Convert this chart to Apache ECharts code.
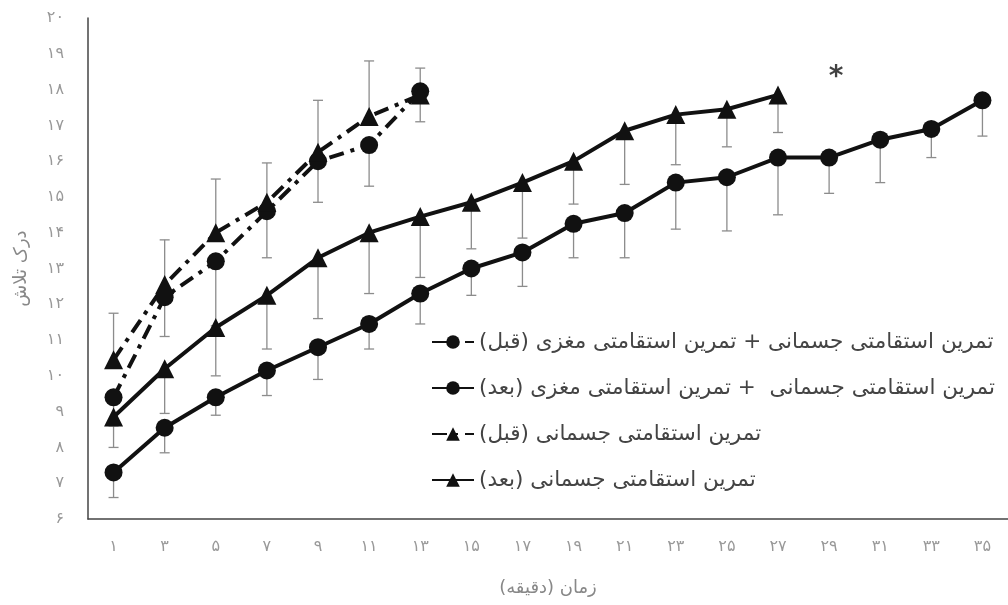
<!DOCTYPE html>
<html>
<head>
<meta charset="utf-8">
<script src="https://cdn.jsdelivr.net/npm/echarts@6/dist/echarts.min.js"></script>
<style>
  html, body { margin: 0; padding: 0; background: #fff; }
  #chart { width: 1008px; height: 605px; }
</style>
</head>
<body>
<div id="chart" dir="rtl"></div>
<script>
// Time points (minutes), written with Persian digits
const categories = ['۱', '۳', '۵', '۷', '۹', '۱۱', '۱۳', '۱۵', '۱۷', '۱۹', '۲۱', '۲۳', '۲۵', '۲۷', '۲۹', '۳۱', '۳۳', '۳۵'];

// Perceived exertion: physical + cognitive endurance training, before
const combinedBefore = [9.4, 12.2, 13.2, 14.6, 16.0, 16.45, 17.95];
const combinedBeforeSd = [0.8, 1.1, 1.8, 1.3, 1.15, 1.15, 0.85];

// Physical + cognitive endurance training, after
const combinedAfter = [7.3, 8.55, 9.4, 10.15, 10.8, 11.45, 12.3, 13.0, 13.45, 14.25, 14.55, 15.4, 15.55, 16.1, 16.1, 16.6, 16.9, 17.7];
const combinedAfterSd = [0.7, 0.7, 0.5, 0.7, 0.9, 0.7, 0.85, 0.75, 0.95, 0.95, 1.25, 1.3, 1.5, 1.6, 1.0, 1.2, 0.8, 1.0];

// Physical endurance training only, before
const physicalBefore = [10.45, 12.55, 14.0, 14.85, 16.25, 17.25, 17.85];
const physicalBeforeSd = [1.3, 1.25, 1.5, 1.1, 1.45, 1.55, 0.75];

// Physical endurance training only, after
const physicalAfter = [8.85, 10.2, 11.35, 12.25, 13.3, 14.0, 14.45, 14.85, 15.4, 16.0, 16.85, 17.3, 17.45, 17.85];
const physicalAfterSd = [0.85, 1.25, 1.35, 1.5, 1.7, 1.7, 1.7, 1.3, 1.55, 1.2, 1.5, 1.4, 1.05, 1.05];

// Significance marker
const starMark = ['۲۹', 18.45];

const seriesNames = [
  'تمرین استقامتی جسمانی + تمرین استقامتی مغزی (قبل)',
  'تمرین استقامتی جسمانی  + تمرین استقامتی مغزی (بعد)',
  'تمرین استقامتی جسمانی (قبل)',
  'تمرین استقامتی جسمانی (بعد)'
];

const persianDigits = ['۰', '۱', '۲', '۳', '۴', '۵', '۶', '۷', '۸', '۹'];
const toPersian = n => String(n).replace(/[0-9]/g, d => persianDigits[+d]);

const FONT = "'DejaVu Sans', sans-serif";
const INK = '#111';
const dashDot = [15, 7, 4, 7];

// Vertical one-sided error bar with a short cap
function errorBars(name, values, sds, dir) {
  return {
    type: 'custom',
    name: name,
    z: 1,
    silent: true,
    data: values.map((v, i) => [i, v, sds[i]]),
    encode: { x: 0, y: 1 },
    renderItem: function (params, api) {
      const x = api.value(0), v = api.value(1), e = api.value(2);
      const p0 = api.coord([x, v]);
      const p1 = api.coord([x, v + dir * e]);
      const style = { stroke: '#8c8c8c', lineWidth: 1.3 };
      return {
        type: 'group',
        children: [
          { type: 'line', shape: { x1: p0[0], y1: p0[1], x2: p1[0], y2: p1[1] }, style: style },
          { type: 'line', shape: { x1: p1[0] - 5, y1: p1[1], x2: p1[0] + 5, y2: p1[1] }, style: style }
        ]
      };
    }
  };
}

function lineSeries(name, values, symbol, dashed) {
  return {
    type: 'line',
    name: name,
    z: 3,
    data: values,
    symbol: symbol,
    symbolSize: symbol === 'triangle' ? 19 : 18,
    showAllSymbol: true,
    itemStyle: { color: INK },
    lineStyle: { color: INK, width: 4, type: dashed ? dashDot : 'solid' }
  };
}

const chart = echarts.init(document.getElementById('chart'), null, { renderer: 'canvas' });
chart.setOption({
  animation: false,
  backgroundColor: '#fff',
  grid: { left: 88, right: 0, top: 18, bottom: 86 },
  legend: {
    orient: 'vertical',
    left: 426,
    top: 326,
    itemGap: 24,
    itemWidth: 42,
    itemHeight: 17,
    data: seriesNames,
    textStyle: { fontFamily: FONT, fontSize: 21.5, color: '#444' }
  },
  xAxis: {
    type: 'category',
    data: categories,
    boundaryGap: true,
    axisLine: { lineStyle: { color: '#444', width: 1.5 } },
    axisTick: { show: false },
    axisLabel: { color: '#999', fontFamily: FONT, fontSize: 16, margin: 20 },
    name: 'زمان (دقیقه)',
    nameLocation: 'middle',
    nameGap: 60,
    nameTextStyle: { color: '#888', fontFamily: FONT, fontSize: 18 }
  },
  yAxis: {
    type: 'value',
    min: 6,
    max: 20,
    interval: 1,
    axisLine: { show: true, lineStyle: { color: '#444', width: 1.5 } },
    axisTick: { show: false },
    splitLine: { show: false },
    axisLabel: { color: '#999', fontFamily: FONT, fontSize: 16, margin: 24, formatter: v => toPersian(v) },
    name: 'درک تلاش',
    nameLocation: 'middle',
    nameRotate: 90,
    nameGap: 58,
    nameTextStyle: { color: '#888', fontFamily: FONT, fontSize: 18 }
  },
  series: [
    errorBars('eb-combined-before', combinedBefore, combinedBeforeSd, -1),
    errorBars('eb-combined-after', combinedAfter, combinedAfterSd, -1),
    errorBars('eb-physical-before', physicalBefore, physicalBeforeSd, 1),
    errorBars('eb-physical-after', physicalAfter, physicalAfterSd, -1),
    lineSeries(seriesNames[0], combinedBefore, 'circle', true),
    lineSeries(seriesNames[1], combinedAfter, 'circle', false),
    lineSeries(seriesNames[2], physicalBefore, 'triangle', true),
    lineSeries(seriesNames[3], physicalAfter, 'triangle', false),
    {
      type: 'scatter',
      name: 'star',
      z: 4,
      symbolSize: 1,
      itemStyle: { color: 'rgba(0,0,0,0)' },
      data: [starMark],
      label: {
        show: true,
        position: 'inside',
        offset: [7, 4],
        formatter: '*',
        fontSize: 28,
        fontWeight: 'bold',
        color: INK,
        fontFamily: FONT
      }
    }
  ]
});
</script>
</body>
</html>
